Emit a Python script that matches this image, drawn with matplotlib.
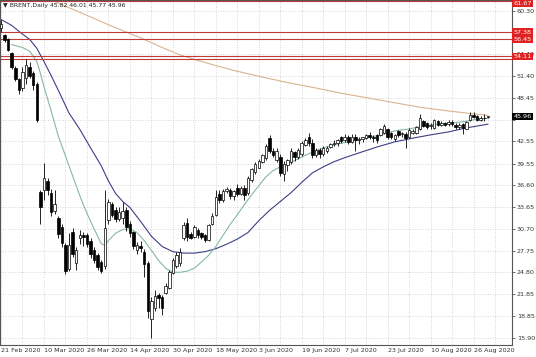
import numpy as np
import matplotlib.pyplot as plt
import matplotlib.transforms as mtransforms

# daily OHLC, 21 Feb 2020 .. 1 Sep 2020 (bar index 0..136)
opens = [57.9, 57.0, 56.4, 54.5, 52.5, 51.0, 49.8, 51.2, 52.7, 51.8,
         50.3, 35.7, 35.9, 37.2, 35.6, 33.1, 32.2, 31.0, 28.5, 25.3,
         30.3, 26.0, 29.4, 29.9, 29.8, 29.0, 27.8, 27.2, 26.2, 25.6,
         31.9, 34.0, 33.3, 32.0, 32.2, 33.2, 31.4, 30.2, 27.8, 28.4,
         27.6, 26.0, 18.5, 20.0, 21.7, 21.5, 22.0, 22.7, 24.7, 25.6,
         26.0, 29.4, 31.5, 30.0, 29.6, 30.6, 30.1, 29.8, 29.2, 31.3,
         32.6, 35.4, 34.6, 35.8, 36.0, 35.1, 36.2, 35.4, 36.2, 35.5,
         37.3, 38.4, 39.0, 39.8, 40.3, 43.0, 41.3, 40.1, 40.5, 38.2,
         39.3, 39.8, 41.1, 40.4, 40.8, 42.1, 43.2, 42.3, 40.7, 41.4,
         40.9, 41.2, 41.8, 42.2, 42.4, 43.1, 42.7, 43.2, 42.5, 43.2,
         42.7, 42.9, 43.0, 43.4, 43.2, 43.4, 43.4, 43.7, 44.2, 43.7,
         42.9, 44.0, 43.5, 43.6, 43.2, 43.7, 43.7, 44.3, 45.3, 45.0,
         44.6, 44.4, 45.3, 44.8, 45.0, 44.9, 45.2, 44.8, 44.5, 44.9,
         44.3, 45.4, 46.2, 46.0, 45.5, 45.7, 45.82]
highs = [59.1, 57.2, 56.6, 54.7, 52.8, 51.2, 52.7, 53.7, 53.3, 52.1,
         50.6, 36.0, 39.6, 37.6, 36.1, 35.9, 32.4, 31.3, 28.8, 30.1,
         30.8, 28.2, 30.5, 30.2, 30.1, 29.4, 28.2, 27.4, 26.4, 35.9,
         34.8, 34.3, 33.6, 33.6, 34.3, 33.6, 31.8, 30.4, 28.9, 29.0,
         27.9, 26.3, 21.4, 22.4, 22.0, 21.7, 23.3, 25.1, 26.8, 27.6,
         28.1, 31.6, 32.1, 30.3, 31.2, 30.8, 30.3, 30.0, 31.4, 32.8,
         35.9, 35.9, 36.1, 36.4, 36.2, 36.0, 36.8, 36.5, 36.6, 37.9,
         39.0, 39.7, 40.2, 40.9, 42.2, 43.4, 41.6, 41.6, 40.8, 39.9,
         40.2, 41.6, 41.3, 41.6, 42.6, 43.0, 43.7, 42.9, 41.7, 41.6,
         41.9, 41.9, 42.4, 42.7, 42.9, 43.3, 43.6, 43.4, 43.5, 43.5,
         43.1, 43.2, 43.6, 43.8, 43.4, 43.6, 44.4, 44.9, 44.4, 43.9,
         43.6, 44.1, 43.9, 43.9, 44.4, 44.2, 44.7, 46.3, 45.5, 45.2,
         45.0, 45.6, 45.4, 45.3, 45.2, 45.4, 45.4, 45.0, 45.0, 45.1,
         45.3, 46.5, 46.5, 46.2, 46.0, 46.3, 46.01]
lows = [57.4, 56.0, 54.8, 52.4, 50.7, 49.0, 49.4, 50.4, 51.2, 49.5,
        45.2, 31.4, 34.6, 35.3, 32.5, 32.7, 29.5, 28.2, 24.6, 25.0,
        26.9, 25.1, 28.7, 28.4, 28.2, 26.8, 26.0, 25.1, 24.7, 25.3,
        31.4, 32.3, 31.6, 31.8, 31.3, 30.4, 29.6, 27.9, 27.3, 27.6,
        24.1, 18.6, 15.9, 19.6, 20.0, 19.0, 21.8, 22.5, 24.5, 25.4,
        25.7, 29.2, 29.1, 29.3, 29.5, 29.5, 29.3, 28.9, 29.1, 31.2,
        32.4, 34.2, 34.4, 35.6, 34.8, 34.6, 35.1, 35.3, 34.6, 35.3,
        37.1, 38.2, 38.9, 39.6, 40.1, 41.0, 40.5, 39.7, 37.9, 37.2,
        38.6, 39.5, 39.9, 40.2, 40.6, 41.9, 42.0, 40.3, 40.5, 40.3,
        40.6, 41.0, 41.6, 41.9, 41.9, 42.3, 42.5, 42.2, 42.3, 41.3,
        42.2, 42.5, 42.9, 42.9, 42.5, 42.4, 43.3, 43.5, 42.9, 42.9,
        42.6, 43.2, 43.1, 41.7, 43.0, 43.5, 43.5, 44.1, 44.5, 44.2,
        44.2, 44.3, 44.6, 44.6, 44.6, 44.7, 44.6, 44.3, 44.2, 43.6,
        44.2, 45.3, 45.8, 45.3, 45.3, 45.3, 45.77]
closes = [58.5, 56.3, 55.0, 52.7, 51.0, 49.6, 52.0, 52.9, 51.4, 50.2,
          45.4, 33.7, 37.6, 35.9, 33.0, 34.0, 30.0, 28.8, 25.0, 28.5,
          27.3, 27.8, 29.9, 29.6, 28.6, 27.3, 26.4, 25.5, 25.0, 30.8,
          34.4, 32.6, 32.0, 33.0, 33.1, 31.0, 30.1, 28.4, 28.5, 28.1,
          25.9, 19.6, 20.9, 21.6, 21.3, 19.9, 23.0, 24.9, 26.5, 27.2,
          27.6, 31.2, 29.6, 29.5, 30.9, 29.8, 29.6, 29.2, 31.2, 32.5,
          35.0, 34.6, 35.8, 36.1, 35.1, 35.8, 35.4, 36.2, 35.3, 37.6,
          38.8, 39.5, 39.9, 40.7, 41.9, 41.3, 40.7, 41.3, 38.3, 39.5,
          40.0, 41.2, 40.4, 41.4, 42.3, 42.8, 42.3, 40.7, 41.4, 40.8,
          41.6, 41.7, 42.2, 42.4, 42.7, 42.6, 43.2, 42.5, 43.2, 42.7,
          42.9, 43.1, 43.4, 43.2, 43.0, 42.7, 44.2, 44.6, 43.2, 43.1,
          43.4, 43.4, 43.7, 43.0, 44.1, 44.0, 44.5, 45.7, 44.7, 44.5,
          44.8, 45.4, 44.8, 45.1, 44.8, 45.2, 44.9, 44.5, 44.8, 44.4,
          45.2, 46.2, 45.9, 45.5, 45.7, 45.8, 45.96]

# moving averages (bar index, price)
ma_fast_idx = [3, 6, 8, 10, 11, 12, 14, 16, 18, 20, 22, 24, 26, 28, 29, 30,
               32, 34, 36, 38, 40, 42, 44, 46, 48, 50, 52, 54, 56, 58, 60,
               62, 64, 66, 68, 70, 72, 74, 76, 78, 80, 83, 86, 90, 94, 98,
               102, 106, 110, 114, 118, 122, 126, 130, 133, 136]
ma_fast = [55.7, 55.3, 54.8, 53.4, 51.8, 50.0, 46.7, 43.3, 40.6, 37.9, 35.2,
           32.8, 30.7, 28.7, 28.45, 29.1, 30.1, 30.6, 30.7, 30.2, 29.1, 27.8,
           26.4, 25.35, 24.8, 24.8, 24.95, 25.35, 26.2, 27.1, 28.3, 29.8,
           31.3, 32.6, 34.0, 35.3, 36.55, 37.75, 38.6, 39.1, 39.5, 40.2,
           40.9, 41.7, 42.2, 42.6, 43.0, 43.45, 44.0, 44.25, 44.65, 44.9,
           45.05, 45.3, 45.6, 45.7]
ma_slow_idx = [0, 3, 5, 8, 10, 12, 14, 16, 19, 22, 25, 28, 30, 32, 34, 36,
               39, 42, 45, 48, 51, 54, 57, 60, 63, 66, 69, 72, 75, 78, 81,
               84, 87, 90, 93, 96, 100, 105, 110, 115, 120, 125, 130, 133, 136]
ma_slow = [59.1, 58.3, 57.5, 56.4, 55.2, 53.4, 51.5, 49.5, 46.4, 44.2, 41.7,
           39.25, 37.2, 35.5, 34.4, 33.6, 31.7, 29.7, 28.3, 27.6, 27.4, 27.4,
           27.6, 28.0, 28.6, 29.3, 30.2, 31.8, 33.2, 34.4, 35.6, 37.0, 38.3,
           39.1, 39.8, 40.35, 41.0, 41.8, 42.5, 43.0, 43.45, 43.85, 44.4,
           44.65, 44.9]
ma_200_idx = [15, 17, 20, 25, 30, 35, 40, 45, 50, 55, 60, 65, 72, 80, 88,
              95, 102, 110, 117, 124, 131, 136]
ma_200 = [61.55, 61.1, 60.5, 59.45, 58.4, 57.4, 56.4, 55.3, 54.3, 53.55,
          52.85, 52.2, 51.4, 50.55, 49.8, 49.1, 48.5, 47.8, 47.2, 46.75,
          46.35, 46.1]

level_lines = [61.67, 57.38, 56.45, 54.11, 53.75]
level_labels = [61.67, 57.38, 56.45, 54.11]
last_price = 45.96

ytick_vals = [15.90, 18.85, 21.85, 24.80, 27.75, 30.70, 33.65, 36.60, 39.55,
              42.55, 45.50, 48.45, 51.40, 54.40, 57.35, 60.30]
hidden_ticks = [45.50, 57.35]
date_idx = [0, 12, 24, 36, 48, 60, 72, 84, 96, 108, 120, 132]
date_labels = ['21 Feb 2020', '10 Mar 2020', '26 Mar 2020', '14 Apr 2020',
               '30 Apr 2020', '18 May 2020', '3 Jun 2020', '19 Jun 2020',
               '7 Jul 2020', '23 Jul 2020', '10 Aug 2020', '26 Aug 2020']

plt.rcParams['font.family'] = 'DejaVu Sans'
fs = 4.6

fig = plt.figure(figsize=(5.36, 3.57), dpi=100)
ax = fig.add_axes([0, 0.034, 0.955, 0.966])

o = np.array(opens); h = np.array(highs); l = np.array(lows); c = np.array(closes)
idx = np.arange(len(o))
up = c >= o

ax.vlines(idx, l, h, color='black', lw=0.6, zorder=3)
body_lo = np.minimum(o, c)
body_h = np.maximum(np.abs(c - o), 0.08)
ax.bar(idx[up], body_h[up], bottom=body_lo[up], width=0.7,
       facecolor='white', edgecolor='black', lw=0.5, zorder=4)
ax.bar(idx[~up], body_h[~up], bottom=body_lo[~up], width=0.7,
       facecolor='black', edgecolor='black', lw=0.5, zorder=4)

ax.plot(ma_200_idx, ma_200, color='#d8b48e', lw=0.8, zorder=2)
ax.plot(ma_slow_idx, ma_slow, color='#3c3f86', lw=0.8, zorder=2)
ax.plot(ma_fast_idx, ma_fast, color='#86b9a2', lw=0.8, zorder=2)

for lv in level_lines:
    ax.axhline(lv, color='#c23b3b', lw=0.8, zorder=2)

ax.set_xlim(-0.28, 142.7)
ax.set_ylim(14.95, 61.75)

ax.yaxis.tick_right()
ax.set_yticks(ytick_vals)
ax.set_yticklabels(['' if v in hidden_ticks else '%.2f' % v for v in ytick_vals])
ax.set_xticks(range(0, 143, 6))
lab_map = dict(zip(date_idx, date_labels))
ax.set_xticklabels([lab_map.get(i, '') for i in range(0, 143, 6)])
for t in ax.get_xticklabels():
    t.set_ha('left')
ax.tick_params(axis='both', labelsize=fs, colors='#333333', length=2, width=0.5, pad=1.5)
ax.tick_params(axis='x', length=0, pad=2.5)
ax.grid(True, color='#c8c8c8', lw=0.6, linestyle=(0, (1, 2)), zorder=0)

for sp in ax.spines.values():
    sp.set_color('#555555')
    sp.set_linewidth(0.8)

trans = mtransforms.blended_transform_factory(ax.transAxes, ax.transData)
for lv in level_labels:
    ypos = min(lv, 61.3)
    ax.text(1.003, ypos, '%.2f' % lv, transform=trans, fontsize=fs, color='white',
            va='center', ha='left', clip_on=False, zorder=10,
            bbox=dict(boxstyle='square,pad=0.2', fc='#e02222', ec='none'))
ax.text(1.003, last_price, '%.2f' % last_price, transform=trans, fontsize=fs,
        color='white', va='center', ha='left', clip_on=False, zorder=10,
        bbox=dict(boxstyle='square,pad=0.2', fc='black', ec='none'))

ax.text(0.006, 0.99, '\u25bc BRENT,Daily 45.82 46.01 45.77 45.96', transform=ax.transAxes,
        fontsize=4.4, color='#222222', va='top', ha='left')

fig.savefig('out.png', dpi=100, facecolor='white')
